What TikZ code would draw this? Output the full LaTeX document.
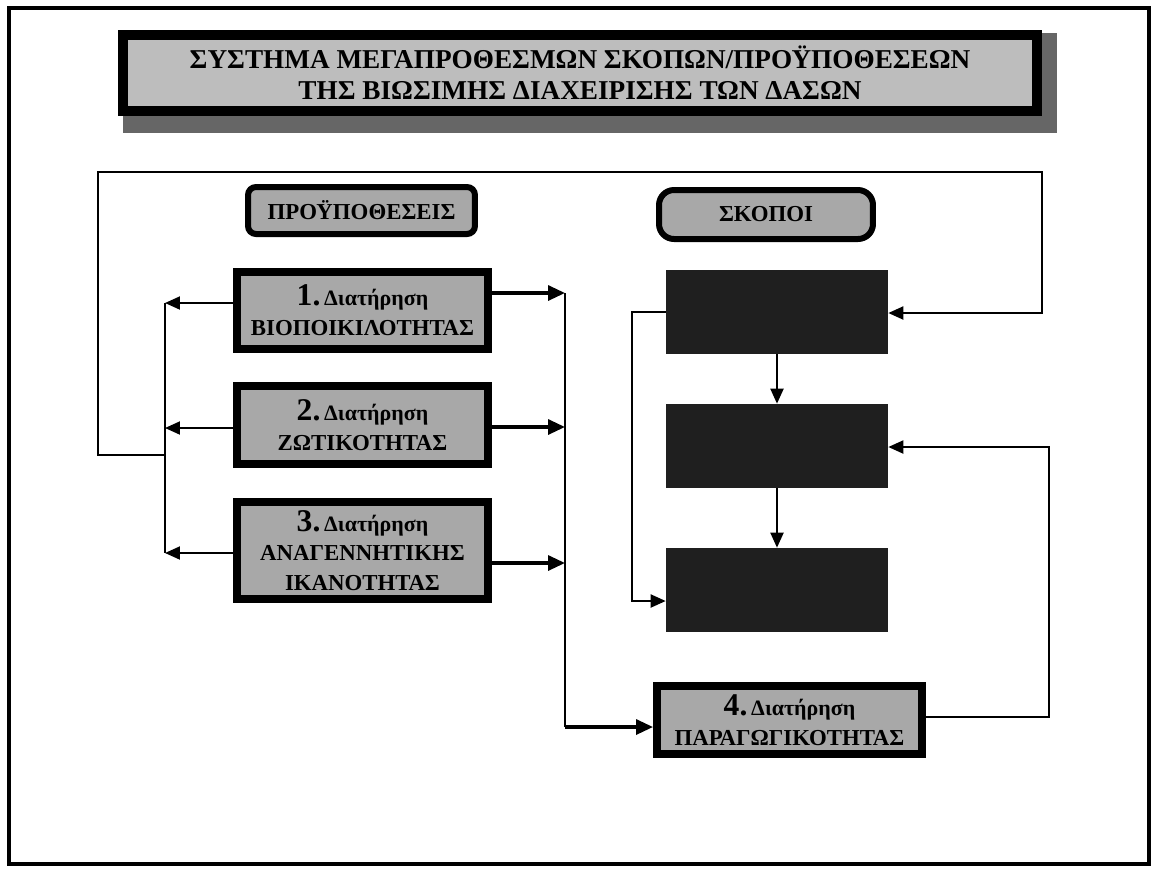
\documentclass[tikz,border=0pt]{standalone}
\usepackage{fontspec}
\setmainfont{Liberation Serif}
\usetikzlibrary{arrows.meta,backgrounds}

\definecolor{boxgray}{gray}{0.66}
\definecolor{shadegray}{gray}{0.4}

\newcommand{\keephead}[1]{{\fontsize{18}{17}\selectfont #1.}\,{\fontsize{12.5}{12}\selectfont Διατήρηση}}

\begin{document}
\begin{tikzpicture}[
    x=0.02cm, y=-0.02cm,
    every node/.style={align=center, font=\bfseries\fontsize{13}{17}\selectfont},
    keepbox/.style={rectangle, draw, line width=0.16cm, fill=boxgray, minimum width=5.02cm},
    goalbox/.style={rectangle, fill=black!88, minimum width=4.44cm, minimum height=1.68cm},
    labelbox/.style={rectangle, draw, line width=0.12cm, fill=boxgray},
    line/.style={line width=0.04cm},
    arrow/.style={-{Triangle[length=0.3cm, width=0.26cm]}, line width=0.04cm},
    thickarrow/.style={-{Triangle[length=0.34cm, width=0.3cm]}, line width=0.065cm}
]
\useasboundingbox (0,0) rectangle (1153,870);

% Frame
\draw [line width=0.07cm] (9,8) rectangle (1149,864);

% Title
\node (title) [rectangle, draw, line width=0.2cm, fill=black!26, minimum width=18.28cm, minimum height=1.52cm,
    font=\bfseries\fontsize{15.5}{17.5}\selectfont] at (580,73)
    {ΣΥΣΤΗΜΑ ΜΕΓΑΠΡΟΘΕΣΜΩΝ ΣΚΟΠΩΝ/ΠΡΟΫΠΟΘΕΣΕΩΝ\\ΤΗΣ ΒΙΩΣΙΜΗΣ ΔΙΑΧΕΙΡΙΣΗΣ ΤΩΝ ΔΑΣΩΝ};
\begin{scope}[on background layer]
\fill [shadegray] ([xshift=0.1cm, yshift=-0.06cm]title.north west) rectangle ([xshift=0.3cm, yshift=-0.34cm]title.south east);
\end{scope}

% Headings
\node (cond) [labelbox, rounded corners=0.16cm, minimum width=4.54cm, minimum height=0.94cm] at (361.5,210.5)
    {ΠΡΟΫΠΟΘΕΣΕΙΣ};
\node (aims) [labelbox, rounded corners=0.3cm, minimum width=4.28cm, minimum height=0.98cm] at (766,214.5)
    {ΣΚΟΠΟΙ};

% Conditions
\node (b1) [keepbox, minimum height=1.54cm] at (362.5,310.5)
    {\keephead{1}\\ΒΙΟΠΟΙΚΙΛΟΤΗΤΑΣ};
\node (b2) [keepbox, minimum height=1.56cm] at (362.5,425)
    {\keephead{2}\\ΖΩΤΙΚΟΤΗΤΑΣ};
\node (b3) [keepbox, minimum height=1.94cm] at (362.5,550.5)
    {\keephead{3}\\ΑΝΑΓΕΝΝΗΤΙΚΗΣ\\ΙΚΑΝΟΤΗΤΑΣ};
\node (b4) [keepbox, minimum width=5.3cm, minimum height=1.36cm] at (789.5,720)
    {\keephead{4}\\ΠΑΡΑΓΩΓΙΚΟΤΗΤΑΣ};

% Aims
\node (A) [goalbox] at (777,311.5) {};
\node (B) [goalbox] at (777,446) {};
\node (C) [goalbox] at (777,590) {};

% Bus points
\coordinate (lb1) at (165,303);
\coordinate (lb2) at (165,428);
\coordinate (lb3) at (165,553);
\coordinate (lbj) at (165,455);
\coordinate (fb1) at (98,455);
\coordinate (fb2) at (98,172);
\coordinate (fb3) at (1042,172);
\coordinate (fb4) at (1042,313);
\coordinate (rb1) at (565,293);
\coordinate (rb2) at (565,427);
\coordinate (rb3) at (565,563);
\coordinate (rb4) at (565,727);
\coordinate (ll1) at (632,312);
\coordinate (ll2) at (632,601);
\coordinate (rl1) at (1049,717);
\coordinate (rl2) at (1049,447);

% Left bus and feedback to aims
\draw [arrow] (b1.west |- lb1) -- (lb1);
\draw [arrow] (b2.west |- lb2) -- (lb2);
\draw [arrow] (b3.west |- lb3) -- (lb3);
\draw [line] (lb1) -- (lb3);
\draw [arrow] (lbj) -- (fb1) -- (fb2) -- (fb3) -- (fb4) -- (fb4 -| A.east);

% Right bus
\draw [thickarrow] (b1.east |- rb1) -- (rb1);
\draw [thickarrow] (b2.east |- rb2) -- (rb2);
\draw [thickarrow] (b3.east |- rb3) -- (rb3);
\draw [line] (rb1) -- (rb4);
\draw [thickarrow] (rb4) -- (b4.west |- rb4);

% Aims chain
\draw [arrow] (A.south) -- (B.north);
\draw [arrow] (B.south) -- (C.north);
\draw [arrow] (A.west |- ll1) -- (ll1) -- (ll2) -- (ll2 -| C.west);
\draw [arrow] (b4.east |- rl1) -- (rl1) -- (rl2) -- (rl2 -| B.east);

\end{tikzpicture}
\end{document}
